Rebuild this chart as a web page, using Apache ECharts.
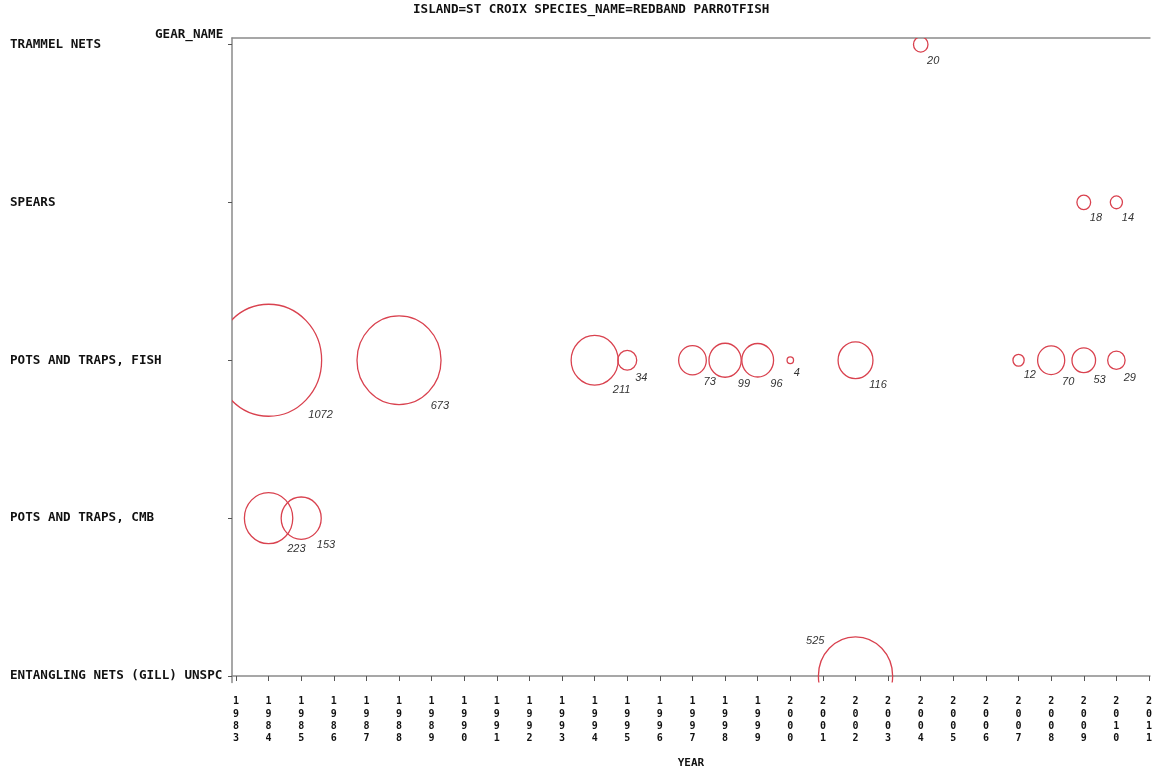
<!DOCTYPE html>
<html>
<head>
<meta charset="utf-8">
<script src="https://cdn.jsdelivr.net/npm/echarts@6/dist/echarts.min.js"></script>
<style>html,body{margin:0;padding:0;background:#fff;overflow:hidden}#chart{width:1155px;height:774px}</style>
</head>
<body>
<div id="chart"></div>
<script>
// ---- data ----
const titleText = 'ISLAND=ST CROIX SPECIES_NAME=REDBAND PARROTFISH';
const yAxisTitle = 'GEAR_NAME';
const xAxisTitle = 'YEAR';
const gearNames = ['ENTANGLING NETS (GILL) UNSPC', 'POTS AND TRAPS, CMB', 'POTS AND TRAPS, FISH', 'SPEARS', 'TRAMMEL NETS'];
const yearTicks = [1983,1984,1985,1986,1987,1988,1989,1990,1991,1992,1993,1994,1995,1996,1997,1998,1999,2000,2001,2002,2003,2004,2005,2006,2007,2008,2009,2010,2011];

const entanglingYears = [2002];
const entanglingCounts = [525];
const cmbYears = [1984, 1985];
const cmbCounts = [223, 153];
const fishYears = [1984, 1988, 1994, 1995, 1997, 1998, 1999, 2000, 2002, 2007, 2008, 2009, 2010];
const fishCounts = [1072, 673, 211, 34, 73, 99, 96, 4, 116, 12, 70, 53, 29];
const spearsYears = [2009, 2010];
const spearsCounts = [18, 14];
const trammelYears = [2004];
const trammelCounts = [20];

// ---- build ----
const groups = [
  [entanglingYears, entanglingCounts],
  [cmbYears, cmbCounts],
  [fishYears, fishCounts],
  [spearsYears, spearsCounts],
  [trammelYears, trammelCounts]
];
const bubbleData = [];
groups.forEach(function (g, gi) {
  g[0].forEach(function (yr, i) { bubbleData.push([yr, gi, g[1][i]]); });
});

const monoFont = '"DejaVu Sans Mono", monospace';
const bubbleColor = '#d9424f';
const axisColor = '#8a8a8a';

function renderItem(params, api) {
  const v = api.value(2);
  const p = api.coord([api.value(0), api.value(1)]);
  const rx = 1.62 * Math.sqrt(v);
  const ry = 1.71 * Math.sqrt(v);
  const cs = params.coordSys;
  let tx, ty, align;
  if (p[1] + 0.8 * ry + 16 > cs.y + cs.height) {
    tx = p[0] - 0.73 * rx - 4; ty = p[1] - 0.8 * ry - 4; align = 'right';
  } else {
    tx = p[0] + 0.73 * rx + 1; ty = p[1] + 0.8 * ry + 10; align = 'left';
  }
  return {
    type: 'group',
    children: [
      { type: 'ellipse', shape: { cx: p[0], cy: p[1], rx: rx, ry: ry },
        style: { fill: 'none', stroke: bubbleColor, lineWidth: 1.3 } },
      { type: 'text', x: tx, y: ty,
        style: { text: String(v), font: 'italic 11px "Liberation Sans", Arial, sans-serif',
                 fill: '#333', align: align, verticalAlign: 'middle' } }
    ]
  };
}

const chart = echarts.init(document.getElementById('chart'), null, { renderer: 'canvas', width: 1155, height: 774 });
chart.setOption({
  backgroundColor: '#fff',
  animation: false,
  title: [
    { text: titleText, left: 413, top: 4, padding: 0,
      textStyle: { fontFamily: monoFont, fontWeight: 'bold', fontSize: 12.6, color: '#111', lineHeight: 12 } },
    { text: yAxisTitle, left: 155, top: 29, padding: 0,
      textStyle: { fontFamily: monoFont, fontWeight: 'bold', fontSize: 12.6, color: '#111', lineHeight: 12 } }
  ],
  grid: { left: 232, top: 38, width: 923, height: 647, containLabel: false },
  xAxis: [
    {
      type: 'value', position: 'bottom', min: 1982.878, max: 2011.03,
      name: xAxisTitle, nameLocation: 'middle', nameGap: 81,
      nameTextStyle: { fontFamily: monoFont, fontWeight: 'bold', fontSize: 11, color: '#111', verticalAlign: 'middle' },
      axisLine: { show: true, lineStyle: { color: axisColor, width: 1.5 } },
      axisTick: { show: true, length: 5, customValues: yearTicks, lineStyle: { color: '#555', width: 1 } },
      axisLabel: {
        customValues: yearTicks, margin: 13, lineHeight: 12.3,
        fontFamily: monoFont, fontWeight: 'bold', fontSize: 10, color: '#111',
        formatter: function (v) { return String(Math.round(v)).split('').join('\n'); }
      },
      splitLine: { show: false }
    },
    {
      type: 'value', position: 'top', min: 1982.878, max: 2011.03,
      axisLine: { show: true, lineStyle: { color: axisColor, width: 1.5 } },
      axisTick: { show: false }, axisLabel: { show: false }, splitLine: { show: false }
    }
  ],
  yAxis: {
    type: 'value', min: -0.041, max: 4.041,
    axisLine: { show: true, lineStyle: { color: axisColor, width: 1.5 } },
    axisTick: { show: true, length: 4, customValues: [0, 1, 2, 3, 4], lineStyle: { color: '#555', width: 1 } },
    axisLabel: {
      customValues: [0, 1, 2, 3, 4], align: 'left', margin: 222, padding: [4, 0, 0, 0],
      fontFamily: monoFont, fontWeight: 'bold', fontSize: 12.6, color: '#111',
      formatter: function (v) { return gearNames[Math.round(v)]; }
    },
    splitLine: { show: false }
  },
  series: [{
    type: 'custom', xAxisIndex: 0, yAxisIndex: 0, clip: true,
    renderItem: renderItem,
    data: bubbleData
  }]
});
</script>
</body>
</html>
